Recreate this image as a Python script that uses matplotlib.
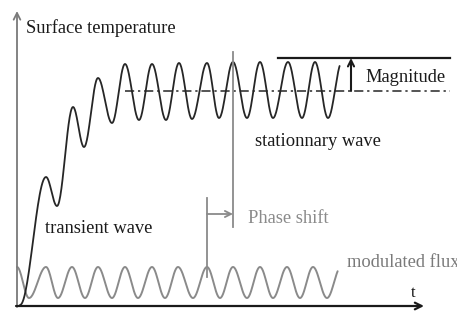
import numpy as np
import matplotlib
matplotlib.use("Agg")
import matplotlib.pyplot as plt

# ---- data (in pixel-like units) ----
# extrema of the surface-temperature curve (x, y), y grows downward
temp_x = [20, 46, 57, 73, 84, 98, 112, 125, 139, 152, 166, 179, 192, 207, 219, 233, 247, 260, 273, 288, 302, 315, 328, 342]
temp_y = [305, 177, 206, 107, 147, 78, 123, 64, 120, 64, 120, 63, 119, 63, 118, 62, 118, 62, 118, 62, 118, 62, 118, 62]
temp_end = 340

# extrema of the modulated flux curve
flux_x = [17, 29, 46, 58, 72, 85, 98, 112, 125, 138, 152, 165, 178, 193, 207, 220, 233, 247, 260, 273, 287, 300, 313, 327, 341]
flux_y = [267, 298, 267, 298, 267, 298, 267, 298, 267, 298, 267, 298, 267, 298, 267, 298, 267, 298, 267, 298, 267, 298, 267, 298, 267]
flux_end = 338

mean_level = 91        # dash-dot mean line
peak_level = 58        # magnitude top line
phase_from = 207       # flux peak
phase_to = 233         # temperature peak

labels = {
    "ylabel": "Surface temperature",
    "xlabel": "t",
    "magnitude": "Magnitude",
    "stationary": "stationnary wave",
    "transient": "transient wave",
    "phase": "Phase shift",
    "flux": "modulated flux",
}


def smooth_extrema(xs, ys, x_end, n=30):
    px, py = [], []
    for i in range(len(xs) - 1):
        t = np.linspace(0, 1, n)
        x = xs[i] + (xs[i + 1] - xs[i]) * t
        y = ys[i] + (ys[i + 1] - ys[i]) * (1 - np.cos(np.pi * t)) / 2
        px.extend(x)
        py.extend(y)
    px = np.array(px)
    py = np.array(py)
    m = px <= x_end
    return px[m], py[m]


fig = plt.figure(figsize=(4.57, 3.11), dpi=100)
ax = fig.add_axes([0, 0, 1, 1])
ax.set_xlim(0, 457)
ax.set_ylim(311, 0)
ax.axis("off")

FONT = "Liberation Serif"
FS = 13.3
GRAY = "#8a8a8a"
DARK = "#262626"

# axes with arrows
ax.annotate("", xy=(17, 11), xytext=(17, 307),
            arrowprops=dict(arrowstyle="->", color="#7a7a7a", lw=1.3,
                            shrinkA=0, shrinkB=0, mutation_scale=12))
ax.annotate("", xy=(424, 306), xytext=(16, 306),
            arrowprops=dict(arrowstyle="->", color="#1a1a1a", lw=1.6,
                            shrinkA=0, shrinkB=0, mutation_scale=12))

# curves
fx, fy = smooth_extrema(flux_x, flux_y, flux_end)
ax.plot(fx, fy, color=GRAY, lw=1.4, solid_capstyle="round")
tx, ty = smooth_extrema(temp_x, temp_y, temp_end)
ax.plot(tx, ty, color=DARK, lw=1.3, solid_capstyle="round")

# mean (dash-dot) and peak lines
ax.plot([125, 450], [mean_level, mean_level], color=DARK, lw=1.1,
        linestyle=(0, (6, 2.5, 1.5, 2.5)))
ax.plot([278, 450], [peak_level, peak_level], color="#1a1a1a", lw=1.6)
ax.annotate("", xy=(351, peak_level), xytext=(351, mean_level),
            arrowprops=dict(arrowstyle="->", color="#1a1a1a", lw=1.5,
                            shrinkA=0, shrinkB=0, mutation_scale=11))

# phase shift marker
ax.plot([phase_to, phase_to], [52, 227], color=GRAY, lw=1.3)
ax.plot([phase_from, phase_from], [198, 277], color=GRAY, lw=1.3)
ax.annotate("", xy=(phase_to, 214), xytext=(phase_from, 214),
            arrowprops=dict(arrowstyle="->", color=GRAY, lw=1.3,
                            shrinkA=0, shrinkB=0, mutation_scale=11))

# texts
ax.text(26, 33, labels["ylabel"], family=FONT, fontsize=FS, color="#1a1a1a", va="baseline")
ax.text(365, 82, labels["magnitude"], family=FONT, fontsize=FS, color="#1a1a1a", va="baseline")
ax.text(255, 146, labels["stationary"], family=FONT, fontsize=FS, color="#1a1a1a", va="baseline")
ax.text(45, 233, labels["transient"], family=FONT, fontsize=FS, color="#1a1a1a", va="baseline")
ax.text(248, 223, labels["phase"], family=FONT, fontsize=FS, color=GRAY, va="baseline")
ax.text(347, 267, labels["flux"], family=FONT, fontsize=FS, color="#7a7a7a", va="baseline", clip_on=False)
ax.text(413, 297, labels["xlabel"], family=FONT, fontsize=12, color="#1a1a1a", va="baseline", ha="center")

fig.savefig("out.png", dpi=100)
